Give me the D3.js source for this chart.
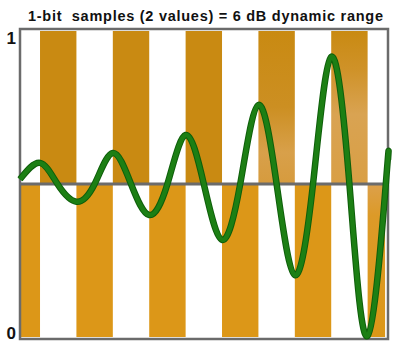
<!DOCTYPE html>
<html>
<head>
<meta charset="utf-8">
<script src="https://cdn.jsdelivr.net/npm/d3@7"></script>
<style>
  html, body { margin: 0; padding: 0; background: #fff; }
  svg { display: block; }
</style>
</head>
<body>
<svg id="chart" width="400" height="351"></svg>
<script>
// ---- data ----
const title = "1-bit  samples (2 values) = 6 dB dynamic range";
const yTickLabels = ["0", "1"];
const yTickValues = [0, 1];
// sample-period intervals (in bar units) where the "1" band is shaded
const upperBars = [[0, 1], [2, 3], [4, 5], [6, 7], [8, 9]];
// intervals where the "0" band is shaded
const lowerBars = [[-0.55, 0], [1, 2], [3, 4], [5, 6], [7, 8], [9, 9.48]];
// growing oscillation: time (bar units) and level (0..1)
const waveT = [-0.55, 0, 0.48, 1, 1.5, 2, 2.5, 3, 3.5, 4, 4.5, 5, 5.5, 6, 6.5, 7, 7.5, 8, 8.5, 9, 9.5, 9.56];
const waveV = [0.515, 0.568, 0.5, 0.443, 0.5, 0.6, 0.5, 0.4, 0.5, 0.658, 0.5, 0.32, 0.5, 0.755, 0.5, 0.206, 0.5, 0.91, 0.5, 0.01, 0.5, 0.578];

// ---- layout ----
const svg = d3.select("#chart");
const x = d3.scaleLinear().domain([-0.55, 9.56]).range([20, 388]);
const y = d3.scaleLinear().domain([0, 1]).range([339, 29]);
const mid = 0.5;

const defs = svg.append("defs");
const fadeUp = defs.append("linearGradient").attr("id", "fadeUp")
  .attr("x1", 0).attr("y1", 0).attr("x2", 0).attr("y2", 1);
fadeUp.append("stop").attr("offset", "0%").attr("stop-color", "#c98a12");
fadeUp.append("stop").attr("offset", "25%").attr("stop-color", "#cf9228");
fadeUp.append("stop").attr("offset", "55%").attr("stop-color", "#d9a352");
fadeUp.append("stop").attr("offset", "100%").attr("stop-color", "#d99f45");
const fadeUp2 = defs.append("linearGradient").attr("id", "fadeUp2")
  .attr("x1", 0).attr("y1", 0).attr("x2", 0).attr("y2", 1);
fadeUp2.append("stop").attr("offset", "0%").attr("stop-color", "#c98a12");
fadeUp2.append("stop").attr("offset", "50%").attr("stop-color", "#cc8f22");
fadeUp2.append("stop").attr("offset", "80%").attr("stop-color", "#d8a04a");
fadeUp2.append("stop").attr("offset", "100%").attr("stop-color", "#d69b3e");
const fadeLow = defs.append("linearGradient").attr("id", "fadeLow")
  .attr("x1", 0).attr("y1", 0).attr("x2", 0).attr("y2", 1);
fadeLow.append("stop").attr("offset", "0%").attr("stop-color", "#dca04a");
fadeLow.append("stop").attr("offset", "20%").attr("stop-color", "#dc9a28");
fadeLow.append("stop").attr("offset", "100%").attr("stop-color", "#dc9718");

const upperFill = (d, i) => i === 4 ? "url(#fadeUp)" : (i === 3 ? "url(#fadeUp2)" : "#c98a12");
const lowerFill = (d, i) => i === 5 ? "url(#fadeLow)" : "#dc9718";

svg.append("g").selectAll("rect").data(upperBars).join("rect")
  .attr("x", d => x(d[0]))
  .attr("width", d => x(d[1]) - x(d[0]))
  .attr("y", y(1) + 2)
  .attr("height", y(mid) - y(1) - 3)
  .attr("fill", upperFill);

svg.append("g").selectAll("rect").data(lowerBars).join("rect")
  .attr("x", d => x(d[0]))
  .attr("width", d => x(d[1]) - x(d[0]))
  .attr("y", y(mid) + 1)
  .attr("height", y(0) - y(mid) - 3)
  .attr("fill", lowerFill);

// frame
const frameColor = "#6b6b6b";
svg.append("rect")
  .attr("x", x.range()[0]).attr("y", y(1))
  .attr("width", x.range()[1] - x.range()[0])
  .attr("height", y(0) - y(1))
  .attr("fill", "none").attr("stroke", frameColor).attr("stroke-width", 2.5);
svg.append("line")
  .attr("x1", x.range()[0]).attr("x2", x.range()[1])
  .attr("y1", y(mid)).attr("y2", y(mid))
  .attr("stroke", frameColor).attr("stroke-width", 3);

// wave
const pts = waveT.map((t, i) => [t, waveV[i]]);
const line = d3.line().x(d => x(d[0])).y(d => y(d[1])).curve(d3.curveNatural);
svg.append("path").datum(pts).attr("d", line)
  .attr("fill", "none").attr("stroke", "#0e5e0a").attr("stroke-width", 6.5)
  .attr("stroke-linejoin", "round");
svg.append("path").datum(pts).attr("d", line)
  .attr("fill", "none").attr("stroke", "#1c7f14").attr("stroke-width", 4.5)
  .attr("stroke-linejoin", "round");

// y labels
svg.append("g").selectAll("text").data(yTickValues).join("text")
  .attr("x", 16)
  .attr("y", d => d === 1 ? y(d) + 15 : y(d) - 0.5)
  .attr("text-anchor", "end")
  .attr("font-family", "Liberation Sans, Arial, sans-serif")
  .attr("font-weight", "bold")
  .attr("font-size", 17)
  .attr("fill", "#111")
  .text((d, i) => yTickLabels[i]);

// title
svg.append("text")
  .attr("x", 28).attr("y", 21)
  .attr("font-family", "Liberation Sans, Arial, sans-serif")
  .attr("font-weight", "bold")
  .attr("font-size", 14.5)
  .attr("textLength", 355)
  .attr("lengthAdjust", "spacing")
  .attr("fill", "#111")
  .style("white-space", "pre")
  .text(title);
</script>
</body>
</html>
